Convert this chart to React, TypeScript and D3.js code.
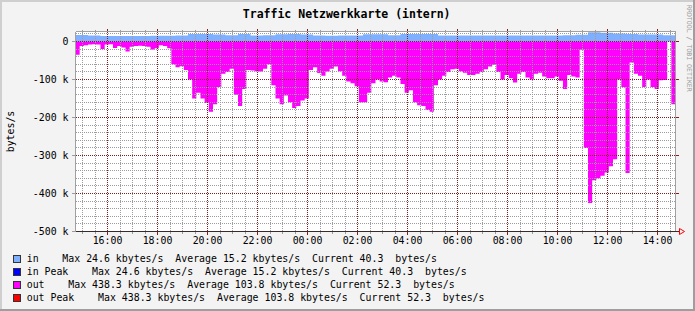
import React from "react";
import * as d3 from "d3";

// ---- data (values in kbytes/s) ----
const TITLE = "Traffic Netzwerkkarte (intern)";
const Y_LABEL = "bytes/s";
const SIDE_TEXT = "RRDTOOL / TOBI OETIKER";
// in: 30-minute samples starting 14:43
const inValues = [17, 15.5, 14.5, 14.5, 14.5, 14.5, 15, 15, 15.5, 19.5, 19.5, 18.5, 16.5, 19.5, 15.5, 16.5, 19, 19.5, 18.5, 15.5, 15, 15.5, 15.5, 19, 19, 16.5, 19.5, 20, 19.5, 15.5, 15.5, 15.5, 15.5, 16, 15.5, 16, 15.5, 15.5, 16, 16.5, 17.5, 24.5, 23, 21, 19.5, 18.5, 18.5, 16.5];
// out: 10-minute samples starting 14:43 (drawn negative)
const outValues = [
  -35, -12, -10, -8, -7, -8, -20, -8, -7, -17, -12, -16, -26, -14, -12, -11, -12, -14, -21, -18,
  -10, -12, -18, -60, -68, -65, -75, -100, -150, -135, -150, -162, -185, -165, -120, -85, -80, -72, -140, -170,
  -125, -75, -76, -78, -79, -72, -60, -115, -150, -165, -142, -160, -175, -170, -155, -150, -75, -68, -83, -90,
  -79, -72, -66, -78, -90, -105, -110, -118, -160, -160, -135, -110, -100, -105, -107, -95, -90, -95, -112, -135,
  -128, -160, -168, -170, -180, -185, -115, -100, -90, -80, -73, -72, -78, -82, -88, -88, -85, -80, -73, -66,
  -61, -80, -100, -88, -97, -108, -85, -80, -95, -100, -85, -82, -92, -97, -97, -92, -103, -125, -88, -92,
  -95, -22, -280, -425, -365, -360, -353, -345, -328, -310, -100, -120, -346, -55, -85, -90, -120, -100, -120, -125,
  -102, -101, 0, -165,
];
const legendNames = ["in", "in Peak", "out", "out Peak"];
const legendGaps = ["    ", "    ", "    ", "    "];
const legendMax = ["24.6", "24.6", "438.3", "438.3"];
const legendAvg = ["15.2", "15.2", "103.8", "103.8"];
const legendCur = ["40.3", "40.3", "52.3", "52.3"];
const legendColors = ["#7FAFFF", "#0000FF", "#FF00FF", "#FF0000"];
const yMajorTicks = [0, -100000, -200000, -300000, -400000, -500000];

const W = 695;
const H = 311;
const FONT = "'DejaVu Sans Mono', monospace";

export default function App() {
  const left = 75.5, right = 675.5, top = 31.5, bottom = 231.5;
  const start = new Date(2000, 0, 1, 14, 43, 12);
  const end = new Date(start.getTime() + 24 * 3600 * 1000);
  const x = d3.scaleTime().domain([start, end]).range([left, right]);
  const y = d3.scaleLinear().domain([-500000, 26316]).range([bottom, top]);

  const inData = inValues.map((v, i) => ({ t: new Date(start.getTime() + i * 1800000), v: v * 1000 }));
  inData.push({ t: end, v: inValues[inValues.length - 1] * 1000 });
  const outData = outValues.map((v, i) => ({ t: new Date(start.getTime() + i * 600000), v: v * 1000 }));
  outData.push({ t: end, v: outValues[outValues.length - 1] * 1000 });

  const area = d3
    .area<{ t: Date; v: number }>()
    .x((d) => x(d.t))
    .y0(y(0))
    .y1((d) => y(d.v))
    .curve(d3.curveStepAfter);

  const majorX = d3.timeHour.every(2)!.range(start, end);
  const majorSet = new Set(majorX.map((t) => t.getTime()));
  const minorX = d3.timeMinute.every(30)!.range(start, end).filter((t) => !majorSet.has(t.getTime()));
  const minorY = d3.range(-500000, 26000, 20000).filter((v) => v % 100000 !== 0);
  const fmtT = d3.timeFormat("%H:%M");
  const fmtY = (v: number) => (v === 0 ? "0" : `${v / 1000} k`);

  const grid = "#9C9C9C";
  const mgrid = "#821E1E";

  return (
    <svg width={W} height={H} style={{ position: "absolute", left: 0, top: 0 }} fontFamily={FONT}>
      <defs>
        <clipPath id="plot">
          <rect x={left} y={top} width={right - left} height={bottom - top} />
        </clipPath>
      </defs>
      <rect x={0} y={0} width={W} height={H} fill="#F3F3F3" />
      {/* 3D frame */}
      <rect x={0} y={0} width={W} height={2} fill="#CFCFCF" />
      <rect x={0} y={0} width={2} height={H} fill="#CFCFCF" />
      <rect x={0} y={H - 2} width={W} height={2} fill="#9E9E9E" />
      <rect x={W - 2} y={0} width={2} height={H} fill="#9E9E9E" />

      <rect x={left} y={top} width={right - left} height={bottom - top} fill="#FFFFFF" />

      <g clipPath="url(#plot)">
        <path d={area(inData) || ""} fill={legendColors[0]} />
        <path d={area(outData) || ""} fill={legendColors[2]} />
      </g>

      <g shapeRendering="crispEdges">
        {minorY.map((v) => (
          <line key={"my" + v} x1={left} x2={right} y1={y(v)} y2={y(v)} stroke={grid} strokeDasharray="1,1" />
        ))}
        {minorX.map((t) => (
          <g key={"mx" + t.getTime()}>
            <line x1={x(t)} x2={x(t)} y1={top} y2={bottom} stroke={grid} strokeDasharray="1,1" />
            <line x1={x(t)} x2={x(t)} y1={top - 2} y2={top} stroke={grid} />
            <line x1={x(t)} x2={x(t)} y1={bottom} y2={bottom + 2} stroke={grid} />
          </g>
        ))}
        {yMajorTicks.map((v) => (
          <g key={"My" + v}>
            <line x1={left} x2={right} y1={y(v)} y2={y(v)} stroke={mgrid} strokeDasharray="1,1" />
            <line x1={left - 4} x2={left} y1={y(v)} y2={y(v)} stroke={grid} />
            <line x1={right} x2={right + 3} y1={y(v)} y2={y(v)} stroke={mgrid} />
          </g>
        ))}
        {majorX.map((t) => (
          <g key={"Mx" + t.getTime()}>
            <line x1={x(t)} x2={x(t)} y1={top} y2={bottom} stroke={mgrid} strokeDasharray="1,1" />
            <line x1={x(t)} x2={x(t)} y1={top - 3} y2={top} stroke={mgrid} />
            <line x1={x(t)} x2={x(t)} y1={bottom} y2={bottom + 3} stroke={mgrid} />
          </g>
        ))}
        {/* frame */}
        <line x1={left} x2={right} y1={top} y2={top} stroke="#A0A0A0" />
        <line x1={left} x2={left} y1={top} y2={bottom} stroke="#A0A0A0" />
        <line x1={right} x2={right} y1={top} y2={bottom} stroke="#A0A0A0" />
        <line x1={left} x2={right + 4} y1={bottom} y2={bottom} stroke="#3A2A2A" />
      </g>
      {/* arrow */}
      <path d={`M${right + 4},${bottom - 3}L${right + 9},${bottom}L${right + 4},${bottom + 3}Z`} fill="none" stroke="#FF0000" />

      {/* axis labels */}
      {yMajorTicks.map((v) => (
        <text key={"yl" + v} x={68.5} y={y(v) + 3.5} textAnchor="end" fontSize={9.9} fill="#000">
          {fmtY(v)}
        </text>
      ))}
      {majorX.map((t) => (
        <text key={"xl" + t.getTime()} x={x(t)} y={244} textAnchor="middle" fontSize={9.9} fill="#000">
          {fmtT(t)}
        </text>
      ))}

      <text x={346.7} y={18.3} textAnchor="middle" fontSize={11.5} fontWeight="bold" fill="#000">
        {TITLE}
      </text>
      <text transform={`translate(14,${(top + bottom) / 2}) rotate(-90)`} textAnchor="middle" fontSize={9.9} fill="#000">
        {Y_LABEL}
      </text>
      <text transform="translate(686.5,5) rotate(90)" fontSize={6.55} fill="#9A9A9A">
        {SIDE_TEXT}
      </text>

      {/* legend */}
      {legendNames.map((name, r) => (
        <g key={name}>
          <rect x={13.5} y={255.5 + 13 * r} width={7} height={7} fill={legendColors[r]} stroke="#333" shapeRendering="crispEdges" />
          <text x={26.7} y={261.7 + 13 * r} fontSize={9.9} fill="#000" style={{ whiteSpace: "pre" }}>
            {`${name}${legendGaps[r]}Max ${legendMax[r]} kbytes/s  Average ${legendAvg[r]} kbytes/s  Current ${legendCur[r]}  bytes/s`}
          </text>
        </g>
      ))}
    </svg>
  );
}
